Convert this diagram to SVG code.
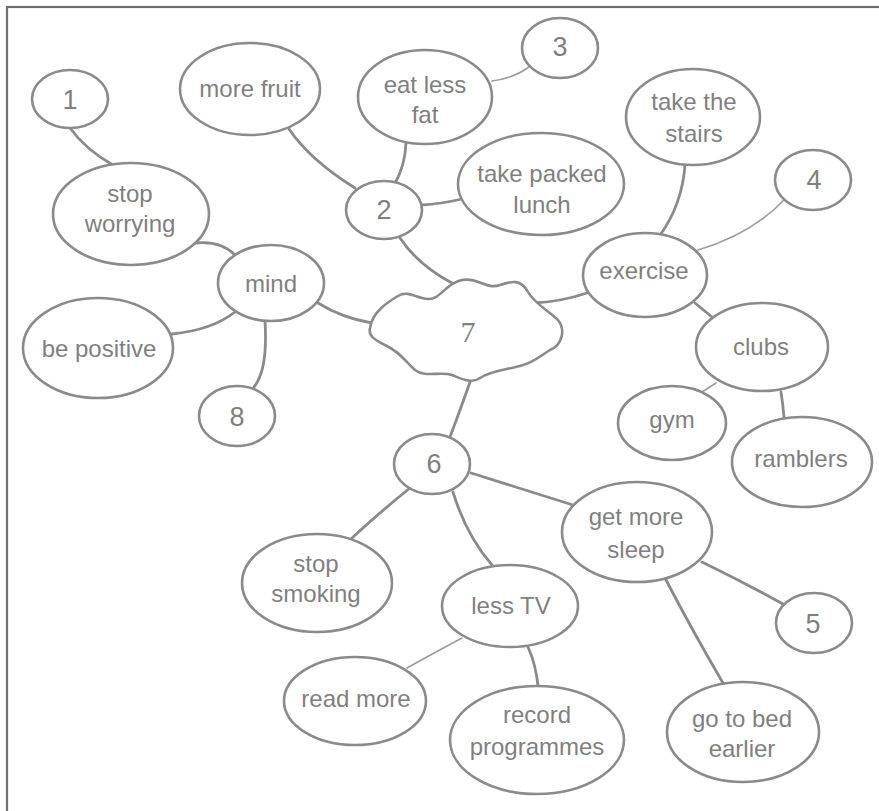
<svg xmlns="http://www.w3.org/2000/svg" width="879" height="811" viewBox="0 0 879 811">
<style>
.n ellipse,.n path{fill:#fff;stroke:#8a8a8a;stroke-width:2.6}
.t{font-family:"Liberation Sans",Arial,sans-serif;font-size:24px;fill:#7f7f7f;text-anchor:middle}
.num{font-size:27px}
.seven{font-family:"Liberation Serif","DejaVu Serif",serif;font-size:30px;fill:#7f7f7f;text-anchor:middle}
#connectors path{fill:none;stroke:#8a8a8a;stroke-width:2.8;stroke-linecap:round}
#connectors path.thin{stroke:#9c9c9c;stroke-width:1.6}
</style>
<rect x="0" y="0" width="879" height="811" fill="#fff"/>
<rect x="7" y="7" width="900" height="900" fill="#fff" stroke="#707070" stroke-width="2.2"/>
<g id="connectors">
<path d="M70,128 Q86,150 113,165"/>
<path d="M195,243 Q222,240 237,257"/>
<path d="M235,312 Q212,330 172,334"/>
<path d="M265,321 Q268,370 254,387"/>
<path d="M318,303 Q342,318 372,323"/>
<path d="M289,129 Q310,160 355,188"/>
<path d="M406,143 Q405,166 395,183"/>
<path d="M400,238 Q418,265 452,283"/>
<path d="M422,205 Q440,204 462,199"/>
<path class="thin" d="M492,81 Q514,78 529,67"/>
<path d="M685,165 Q682,205 660,235"/>
<path class="thin" d="M698,250 Q752,234 785,199"/>
<path d="M587,293 Q560,302 533,303"/>
<path d="M695,303 L712,317"/>
<path class="thin" d="M716,383 L702,392"/>
<path d="M781,392 Q783,405 784,417"/>
<path d="M470,382 Q462,405 450,437"/>
<path d="M410,488 Q380,512 352,538"/>
<path d="M453,492 Q466,535 492,565"/>
<path d="M471,473 Q522,489 573,505"/>
<path class="thin" d="M462,638 Q432,654 407,668"/>
<path d="M528,647 Q536,665 538,686"/>
<path d="M702,562 Q745,583 783,604"/>
<path d="M665,578 Q692,630 723,683"/>
</g>
<g id="n7" class="n">
<path d="M370,328 C372,312 388,302 398,296 C408,290 416,298 428,299 C440,300 446,283 462,280 C478,277 486,290 500,285 C512,281 521,279 528,292 C534,303 550,312 558,320 C566,330 562,345 550,350 C540,356 535,362 520,366 C505,370 490,371 480,378 C472,384 462,379 452,375 C440,371 425,378 415,370 C405,361 400,352 385,345 C375,340 368,336 370,328 Z"/>
<text class="seven" x="468" y="342">7</text>
</g>
<g id="n1" class="n"><ellipse cx="70" cy="99" rx="38" ry="29"/><text class="t num" x="70" y="109">1</text></g>
<g id="nfruit" class="n"><ellipse cx="250" cy="89" rx="70" ry="46"/><text class="t" x="250" y="97">more fruit</text></g>
<g id="nfat" class="n"><ellipse cx="425" cy="97" rx="67" ry="47"/><text class="t" x="425" y="93">eat less</text><text class="t" x="425" y="123">fat</text></g>
<g id="n3" class="n"><ellipse cx="560" cy="48" rx="38" ry="30"/><text class="t num" x="560" y="56">3</text></g>
<g id="n2" class="n"><ellipse cx="384" cy="210" rx="38" ry="29"/><text class="t num" x="384" y="219">2</text></g>
<g id="nlunch" class="n"><ellipse cx="541" cy="184" rx="83" ry="51"/><text class="t" x="542" y="182">take packed</text><text class="t" x="542" y="213">lunch</text></g>
<g id="nstairs" class="n"><ellipse cx="693" cy="117" rx="67" ry="48"/><text class="t" x="694" y="110">take the</text><text class="t" x="694" y="142">stairs</text></g>
<g id="n4" class="n"><ellipse cx="813" cy="180" rx="38" ry="30"/><text class="t num" x="814" y="189">4</text></g>
<g id="nexercise" class="n"><ellipse cx="645" cy="275" rx="62" ry="42"/><text class="t" x="644" y="279">exercise</text></g>
<g id="nclubs" class="n"><ellipse cx="762" cy="347" rx="66" ry="44"/><text class="t" x="761" y="355">clubs</text></g>
<g id="ngym" class="n"><ellipse cx="672" cy="423" rx="54" ry="37"/><text class="t" x="672" y="428">gym</text></g>
<g id="nramblers" class="n"><ellipse cx="802" cy="462" rx="70" ry="45"/><text class="t" x="801" y="467">ramblers</text></g>
<g id="nworry" class="n"><ellipse cx="131" cy="214" rx="78" ry="51"/><text class="t" x="130" y="202">stop</text><text class="t" x="130" y="232">worrying</text></g>
<g id="nmind" class="n"><ellipse cx="271" cy="283" rx="53" ry="38"/><text class="t" x="271" y="292">mind</text></g>
<g id="npositive" class="n"><ellipse cx="98" cy="348" rx="75" ry="50"/><text class="t" x="99" y="357">be positive</text></g>
<g id="n8" class="n"><ellipse cx="237" cy="416" rx="38" ry="30"/><text class="t num" x="237" y="426">8</text></g>
<g id="n6" class="n"><ellipse cx="432" cy="464" rx="38" ry="30"/><text class="t num" x="434" y="473">6</text></g>
<g id="nsmoking" class="n"><ellipse cx="317" cy="583" rx="75" ry="49"/><text class="t" x="316" y="572">stop</text><text class="t" x="316" y="602">smoking</text></g>
<g id="ntv" class="n"><ellipse cx="510" cy="606" rx="68" ry="41"/><text class="t" x="511" y="614">less TV</text></g>
<g id="nread" class="n"><ellipse cx="355" cy="701" rx="71" ry="44"/><text class="t" x="356" y="707">read more</text></g>
<g id="nrecord" class="n"><ellipse cx="537" cy="740" rx="87" ry="54"/><text class="t" x="537" y="723">record</text><text class="t" x="537" y="755">programmes</text></g>
<g id="nsleep" class="n"><ellipse cx="637" cy="532" rx="75" ry="50"/><text class="t" x="636" y="525">get more</text><text class="t" x="636" y="558">sleep</text></g>
<g id="n5" class="n"><ellipse cx="814" cy="623" rx="38" ry="30"/><text class="t num" x="813" y="633">5</text></g>
<g id="nbed" class="n"><ellipse cx="743" cy="732" rx="76" ry="50"/><text class="t" x="742" y="727">go to bed</text><text class="t" x="742" y="757">earlier</text></g>
</svg>
